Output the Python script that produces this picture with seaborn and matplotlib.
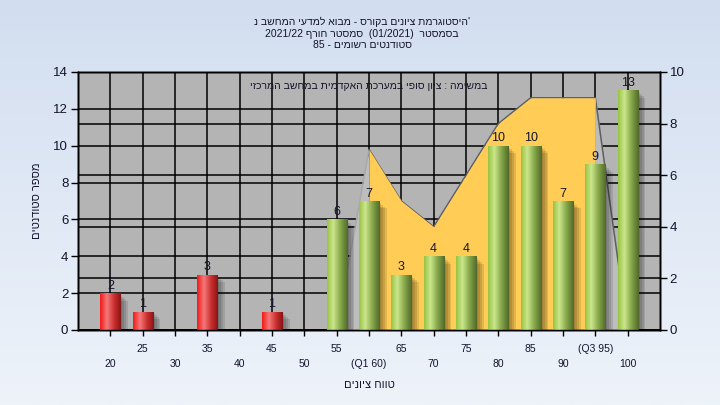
import re

import numpy as np
import pandas as pd
import seaborn as sns
import matplotlib.pyplot as plt
from matplotlib.colors import LinearSegmentedColormap
from matplotlib.patches import Rectangle

# --------------------------- data --------------------------- #

grades = [20, 25, 30, 35, 40, 45, 50, 55, 60, 65, 70, 75, 80, 85, 90, 95, 100]
counts = [2, 1, 0, 3, 0, 1, 0, 6, 7, 3, 4, 4, 10, 10, 7, 9, 13]
# band drawn on the right axis (Q1..Q3 highlight)
band = [0, 0, 0, 0, 0, 0, 0, 0, 7, 5, 4, 6, 8, 9, 9, 9, 0]
tick_text = ['20', '25', '30', '35', '40', '45', '50', '55', '(Q1 60)', '65',
             '70', '75', '80', '85', '90', '(Q3 95)', '100']
q1, q3 = 60, 95
pass_mark = 55

title_lines = ["'היסטוגרמת ציונים בקורס - מבוא למדעי המחשב נ",
               "בסמסטר  (01/2021)  סמסטר חורף 2021/22",
               "סטודנטים רשומים - 85"]
note_text = "במשימה : ציון סופי במערכת האקדמית במחשב המרכזי"
x_title = "טווח ציונים"
y_title = "מספר סטודנטים"


def rtl(s):
    # matplotlib draws left to right, so flip hebrew but keep numbers readable
    r = s[::-1]
    return re.sub(r'[0-9/().]+', lambda m: m.group(0)[::-1], r)


# --------------------------- style --------------------------- #

sns.set_style('white')
plt.rcParams['font.family'] = ['Liberation Sans', 'DejaVu Sans']
ink = '#14142c'

fig = plt.figure(figsize=(7.2, 4.05), dpi=100)

# background gradient
bg = fig.add_axes([0, 0, 1, 1], zorder=-10)
bg_cmap = LinearSegmentedColormap.from_list('bg', ['#d2def0', '#eef3fa'])
bg.imshow(np.linspace(0, 1, 256).reshape(-1, 1), cmap=bg_cmap, aspect='auto',
          extent=(0, 1, 0, 1))
bg.axis('off')

ax = fig.add_axes([78 / 720, 75 / 405, 582 / 720, 258 / 405])
ax.set_facecolor('#b4b4b4')
ax2 = ax.twinx()
ax3 = ax.twinx()

# ------------------------ right axis band ------------------------ #

g = np.array(grades)
v = np.array(band)
inner = (g >= q1) & (g <= q3)
left_part = (g >= q1 - 5) & (g <= q1)
right_part = (g >= q3) & (g <= q3 + 5)
ax2.fill_between(g[left_part], v[left_part], color='#bdbdbd', zorder=1, lw=0)
ax2.fill_between(g[right_part], v[right_part], color='#bdbdbd', zorder=1, lw=0)
ax2.plot(g[left_part], v[left_part], color='#a8a8a8', lw=1, zorder=1.1)
ax2.plot(g[inner | right_part], v[inner | right_part],
         color='#5e5e5e', lw=1.1, zorder=1.1)
ax2.fill_between(g[inner], v[inner], color='#ffcc55', zorder=1.2, lw=0)

# --------------------------- bars --------------------------- #

status = ['fail' if x < pass_mark else 'pass' for x in grades]
df = pd.DataFrame({'grade': grades, 'count': counts, 'status': status})
sns.barplot(data=df, x='grade', y='count', hue='status', native_scale=True,
            palette={'fail': '#e02020', 'pass': '#9cc848'}, width=0.62,
            legend=False, ax=ax3, saturation=1, linewidth=0)

red_cmap = LinearSegmentedColormap.from_list(
    'r', [(0, '#f21a1a'), (0.33, '#f47878'), (0.7, '#c82c2c'), (1, '#861616')])
green_cmap = LinearSegmentedColormap.from_list(
    'g', [(0, '#98c444'), (0.3, '#cce68c'), (0.65, '#84a648'), (1, '#52692a')])
ramp = np.linspace(0, 1, 64).reshape(1, -1)

for p in list(ax3.patches):
    h = p.get_height()
    if h <= 0:
        p.set_visible(False)
        continue
    x0 = p.get_x()
    w = p.get_width()
    # soft shadow to the right
    for k, off in enumerate([0.3, 0.6, 0.9, 1.2]):
        ax3.add_patch(Rectangle((x0 + off, 0), w, max(h - 0.1 * (k + 1), 0),
                                color='black', alpha=0.11, lw=0, zorder=0.8))
    cmap = red_cmap if x0 + w / 2 < pass_mark else green_cmap
    im = ax3.imshow(ramp, cmap=cmap, aspect='auto', extent=(x0, x0 + w, 0, h),
                    zorder=1.5)
    im.set_clip_path(p)

for c in ax3.containers:
    ax3.bar_label(c, fmt=lambda val: f'{val:.0f}' if val > 0 else '',
                  padding=1, fontsize=9, color=ink)

# --------------------------- axes --------------------------- #

ax.set_xlim(15, 105)
ax.set_ylim(0, 14)
ax2.set_ylim(0, 10)
ax3.set_ylim(0, 14)
ax3.yaxis.set_visible(False)
ax3.set_xlabel('')

ax.set_yticks(range(0, 15, 2))
ax2.set_yticks(range(0, 11, 2))
ax.set_xticks(grades)
ax.set_xticklabels([('\n' + t) if i % 2 == 0 else (t + '\n')
                    for i, t in enumerate(tick_text)],
                   linespacing=1.6)

ax.grid(True, axis='both', color='black', lw=1.1)
ax.set_axisbelow(True)
ax2.grid(True, axis='y', color='black', lw=1.1)
ax2.set_axisbelow(True)

ax.tick_params(axis='x', length=4, width=1, color='black', labelsize=7.5,
               labelcolor=ink, pad=6, bottom=True)
ax.tick_params(axis='y', length=5, width=1, color='black', labelsize=9.5,
               labelcolor=ink, pad=2, left=True)
ax2.tick_params(axis='y', length=5, width=1, color='black', labelsize=9.5,
                labelcolor=ink, pad=2, right=True)

for a in (ax, ax2, ax3):
    for s in a.spines.values():
        s.set_color('black')
        s.set_linewidth(1)

ax.set_xlabel(rtl(x_title), fontsize=8, color=ink, labelpad=8)
ax.set_ylabel(rtl(y_title), fontsize=8, color=ink, labelpad=8)

ax3.text(0.704, 0.945, rtl(note_text), transform=ax3.transAxes, ha='right',
         va='center', fontsize=7.5, color=ink, zorder=5)

fig.text(0.503, 0.958, '\n'.join(rtl(t) for t in title_lines), ha='center',
         va='top', fontsize=7.5, color=ink, linespacing=1.2)

fig.savefig('out.png', dpi=100)
